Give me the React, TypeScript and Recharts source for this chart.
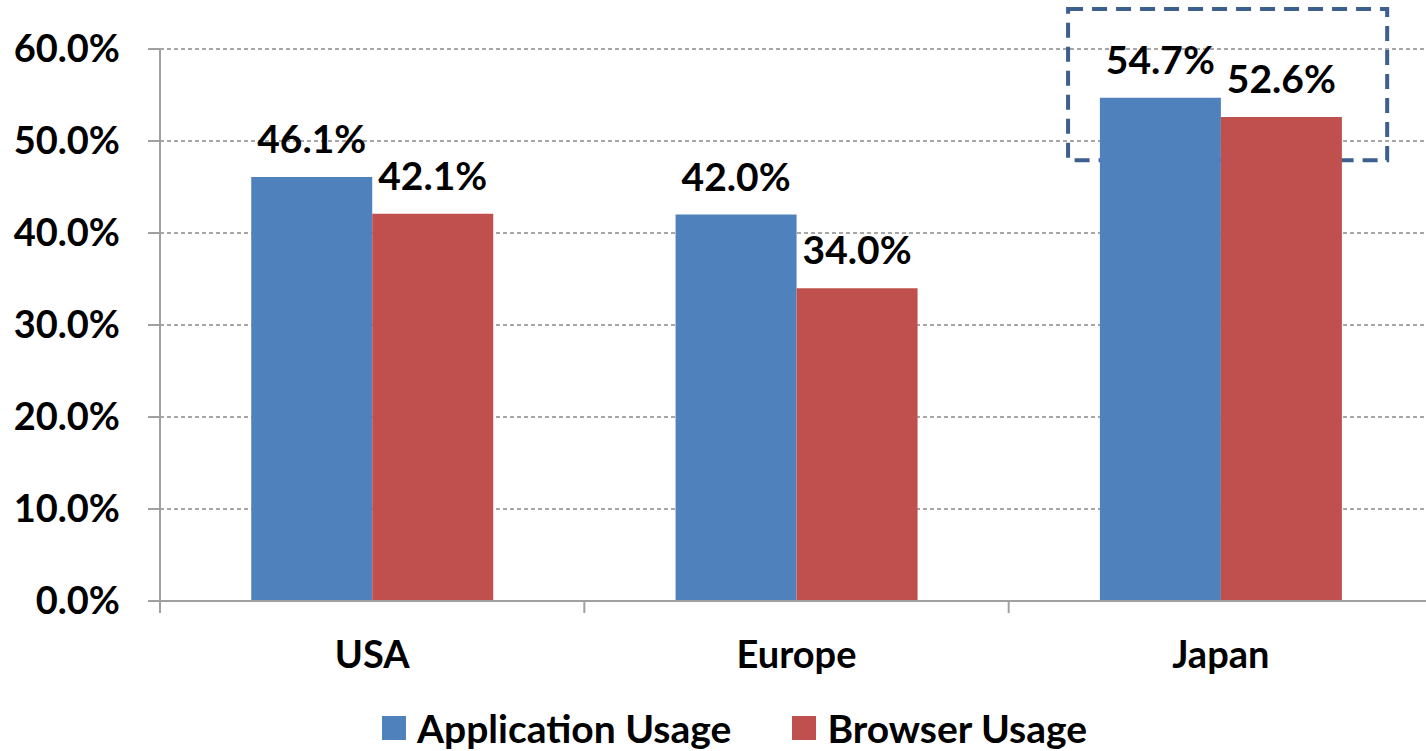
import React from 'react';
import { BarChart, Bar, XAxis, YAxis, CartesianGrid, LabelList, ReferenceArea, Legend } from 'recharts';

const regions = ['USA', 'Europe', 'Japan'];
const applicationUsage = [46.1, 42.0, 54.7];
const browserUsage = [42.1, 34.0, 52.6];
const yTicks = [0, 10, 20, 30, 40, 50, 60];
const seriesNames = ['Application Usage', 'Browser Usage'];
const highlightRegion = 'Japan';
const highlightLow = 47.9;
const highlightHigh = 64.35;

const data = regions.map((r, i) => ({ region: r, app: applicationUsage[i], browser: browserUsage[i] }));

const FONT = 'Lato, "Open Sans", sans-serif';
const BLUE = '#4F81BD';
const RED = '#C0504D';
const AXIS = '#A0A0A0';

const fmt = (v: number) => `${Number(v).toFixed(1)}%`;

const HighlightShape = (props: any) => {
  const { x, y, width, height } = props;
  const left = x + width * 0.14;
  const right = x + width * 0.892;
  return (
    <rect x={left} y={y} width={right - left} height={height} fill="none" stroke="#3C5F8E" strokeWidth={4} strokeDasharray="15 9" />
  );
};

const CategoryTick = (props: any) => {
  const { x, y, payload } = props;
  const half = payload && payload.offset ? payload.offset : 0;
  return (
    <g>
      <line x1={x - half} x2={x - half} y1={y - 12} y2={y} stroke={AXIS} strokeWidth={2} />
      <text x={x} y={y + 55} textAnchor="middle" fill="#000" fontSize={38} fontWeight={700} fontFamily={FONT}>
        {payload.value}
      </text>
    </g>
  );
};

const LegendContent = () => (
  <div style={{ height: 46, lineHeight: '46px', display: 'flex', justifyContent: 'flex-start', alignItems: 'center', paddingLeft: 382, fontFamily: FONT, fontWeight: 700, fontSize: 39, color: '#000', whiteSpace: 'nowrap' }}>
    <span style={{ display: 'inline-block', width: 24, height: 24, background: BLUE, marginRight: 11 }} />
    <span style={{ marginRight: 61 }}>{seriesNames[0]}</span>
    <span style={{ display: 'inline-block', width: 24, height: 24, background: RED, marginRight: 11 }} />
    <span>{seriesNames[1]}</span>
  </div>
);

export default function App() {
  return (
    <div style={{ position: 'absolute', left: 0, top: 0, width: 1426, height: 751, background: '#fff', overflow: 'hidden' }}>
      <BarChart
        width={1426}
        height={751}
        data={data}
        margin={{ top: 49, right: -7, bottom: 0, left: 0 }}
        barCategoryGap="21.5%"
        barGap={0}
      >
        <CartesianGrid vertical={false} stroke="#8A8A8A" strokeDasharray="4 3" strokeWidth={1.5} />
        <XAxis
          dataKey="region"
          height={104}
          axisLine={{ stroke: AXIS, strokeWidth: 2 }}
          tickLine={false}
          tickSize={12}
          tickMargin={0}
          tick={<CategoryTick />}
          interval={0}
        />
        <YAxis
          domain={[0, 60]}
          ticks={yTicks}
          width={160}
          tickFormatter={fmt}
          axisLine={{ stroke: AXIS, strokeWidth: 2 }}
          tickLine={{ stroke: AXIS, strokeWidth: 2 }}
          tickSize={12}
          tickMargin={28}
          tick={{ fill: '#000', fontSize: 38, fontWeight: 700, fontFamily: FONT }}
        />
        <Legend verticalAlign="bottom" content={<LegendContent />} />
        <Bar dataKey="app" name={seriesNames[0]} fill={BLUE} isAnimationActive={false}>
          <LabelList dataKey="app" position="top" offset={24} formatter={fmt} style={{ fill: '#000', fontSize: 39, fontWeight: 700, fontFamily: FONT }} />
        </Bar>
        <Bar dataKey="browser" name={seriesNames[1]} fill={RED} isAnimationActive={false}>
          <LabelList dataKey="browser" position="top" offset={24} formatter={fmt} style={{ fill: '#000', fontSize: 39, fontWeight: 700, fontFamily: FONT }} />
        </Bar>
        <ReferenceArea x1={highlightRegion} x2={highlightRegion} y1={highlightLow} y2={highlightHigh} ifOverflow="visible" shape={<HighlightShape />} />
      </BarChart>
    </div>
  );
}
